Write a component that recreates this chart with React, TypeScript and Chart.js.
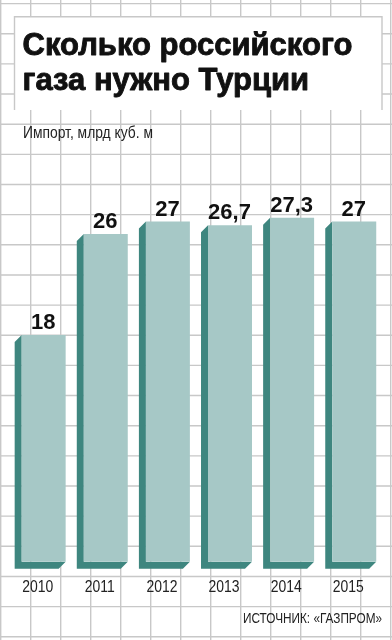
import { useEffect, useRef } from "react";
import { Chart, BarController, BarElement, CategoryScale, LinearScale } from "chart.js";

Chart.register(BarController, BarElement, CategoryScale, LinearScale);

// Gas imports from Russia, bcm
const years = ["2010", "2011", "2012", "2013", "2014", "2015"];
const imports = [18, 26, 27, 26.7, 27.3, 27];

const titleLines = ["Сколько российского", "газа нужно Турции"];
const unitLabel = "Импорт, млрд куб. м";
const sourceLabel = "ИСТОЧНИК: «ГАЗПРОМ»";

const SANS = "'Liberation Sans', Arial, sans-serif";

const FACE = "#a6c8c6";
const SIDE = "#3e867f";
const GRID = "#c8c8c8";
const INK = "#111111";
const DEPTH = 7;

const fmt = (v: number) => String(v).replace(".", ",");

// Narrow captions: regular sans squeezed horizontally to a given width
function condensedText(
  ctx: CanvasRenderingContext2D,
  text: string,
  x: number,
  y: number,
  size: number,
  squeeze: number,
  align: CanvasTextAlign
) {
  ctx.save();
  ctx.font = `${size}px ${SANS}`;
  ctx.textAlign = align;
  ctx.textBaseline = "alphabetic";
  ctx.translate(x, y);
  ctx.scale(squeeze, 1);
  ctx.fillText(text, 0, 0);
  ctx.restore();
}

function squeezeFor(ctx: CanvasRenderingContext2D, text: string, size: number, width: number) {
  ctx.save();
  ctx.font = `${size}px ${SANS}`;
  const w = ctx.measureText(text).width;
  ctx.restore();
  return width / w;
}

// Squared paper background, the title panel and the captions
const backdrop = {
  id: "backdrop",
  beforeDraw(chart: any) {
    const { ctx, width, height } = chart;
    ctx.save();
    ctx.fillStyle = "#ffffff";
    ctx.fillRect(0, 0, width, height);

    ctx.strokeStyle = GRID;
    ctx.lineWidth = 1.4;
    ctx.beginPath();
    for (let x = 0.7; x < width; x += 30) {
      ctx.moveTo(x, 0);
      ctx.lineTo(x, height);
    }
    for (let y = 3.6; y < height; y += 30.15) {
      ctx.moveTo(0, y);
      ctx.lineTo(width, y);
    }
    ctx.stroke();

    // title panel
    ctx.fillStyle = "#ffffff";
    ctx.fillRect(14.5, 16.7, 367.5, 93.3);
    ctx.beginPath();
    ctx.moveTo(14.5, 110);
    ctx.lineTo(14.5, 16.7);
    ctx.lineTo(382, 16.7);
    ctx.lineTo(382, 110);
    ctx.stroke();

    ctx.fillStyle = INK;
    ctx.strokeStyle = INK;
    ctx.lineWidth = 0.9;
    ctx.lineJoin = "round";
    ctx.textBaseline = "alphabetic";
    ctx.textAlign = "left";
    ctx.font = `bold 31px ${SANS}`;
    titleLines.forEach((line, i) => {
      const y = 55 + i * 35;
      ctx.fillText(line, 22.5, y);
      ctx.strokeText(line, 22.5, y);
    });

    ctx.fillStyle = "#222222";
    condensedText(ctx, unitLabel, 23, 137.5, 17, squeezeFor(ctx, unitLabel, 17, 130), "left");
    condensedText(ctx, sourceLabel, 382, 623, 14.5, squeezeFor(ctx, sourceLabel, 14.5, 139), "right");
    ctx.restore();
  },
};

// Dark extruded side and bottom behind each bar, values above, years below
const extrude = {
  id: "extrude",
  beforeDatasetsDraw(chart: any) {
    const { ctx } = chart;
    const meta = chart.getDatasetMeta(0);
    ctx.save();
    ctx.fillStyle = SIDE;
    meta.data.forEach((bar: any) => {
      const { x, y, base, width } = bar.getProps(["x", "y", "base", "width"], true);
      const L = x - width / 2;
      const R = x + width / 2;
      ctx.beginPath();
      ctx.moveTo(L, y);
      ctx.lineTo(L - DEPTH, y + DEPTH);
      ctx.lineTo(L - DEPTH, base + DEPTH);
      ctx.lineTo(R - DEPTH, base + DEPTH);
      ctx.lineTo(R, base);
      ctx.lineTo(L, base);
      ctx.closePath();
      ctx.fill();
    });
    ctx.restore();
  },
  afterDatasetsDraw(chart: any) {
    const { ctx } = chart;
    const meta = chart.getDatasetMeta(0);
    ctx.save();
    ctx.fillStyle = INK;
    ctx.font = `bold 22px ${SANS}`;
    ctx.textAlign = "center";
    ctx.textBaseline = "alphabetic";
    meta.data.forEach((bar: any, i: number) => {
      const { x, y } = bar.getProps(["x", "y"], true);
      ctx.fillText(fmt(imports[i]), x - 0.5, y - 6);
    });
    ctx.restore();
  },
  afterDraw(chart: any) {
    const { ctx } = chart;
    const xScale = chart.scales.x;
    ctx.save();
    ctx.fillStyle = "#222222";
    const sq = squeezeFor(ctx, years[0], 16.5, 31);
    years.forEach((yr, i) => {
      condensedText(ctx, yr, xScale.getPixelForTick(i) - 6, 591.5, 16.5, sq, "center");
    });
    ctx.restore();
  },
};

export default function App() {
  const ref = useRef<HTMLCanvasElement | null>(null);

  useEffect(() => {
    if (!ref.current) return;
    const chart = new Chart(ref.current, {
      type: "bar",
      data: {
        labels: years,
        datasets: [
          {
            data: imports,
            backgroundColor: FACE,
            borderWidth: 0,
            categoryPercentage: 1,
            barPercentage: 0.708,
          },
        ],
      },
      options: {
        responsive: false,
        animation: false,
        devicePixelRatio: 1,
        layout: { padding: { left: 12.6, right: 6.7, top: 183.7, bottom: 0 } },
        plugins: { legend: { display: false }, tooltip: { enabled: false } },
        scales: {
          x: {
            grid: { display: false, drawTicks: false },
            border: { display: false },
            ticks: { display: false },
            afterFit: (scale: any) => {
              scale.height = 78.3;
            },
          },
          y: { display: false, min: 0, max: 30 },
        },
      },
      plugins: [backdrop, extrude],
    });
    return () => chart.destroy();
  }, []);

  return (
    <div style={{ position: "fixed", left: 0, top: 0, width: 392, height: 640 }}>
      <canvas ref={ref} width={392} height={640} />
    </div>
  );
}
